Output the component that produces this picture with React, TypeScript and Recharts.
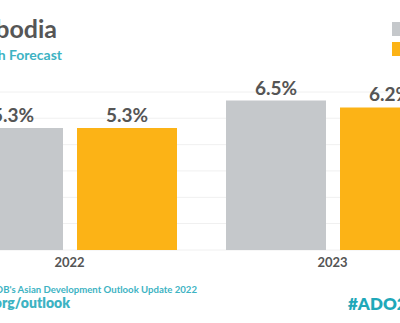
import React from "react";
import { BarChart, Bar, XAxis, YAxis, CartesianGrid, LabelList } from "recharts";

const years = ["2022", "2023"];
const adoApril = [5.3, 6.5];
const adoUpdate = [5.3, 6.2];
const gridTicks = [0, 0.57, 1.15, 1.72, 2.29, 2.86, 3.44, 4.01, 4.58, 5.15, 5.73, 6.3, 6.87];

const data = years.map((y, i) => ({ year: y, april: adoApril[i], update: adoUpdate[i] }));

const GREY = "#c5c8cb";
const YELLOW = "#fcb316";
const TEXT = "#555555";
const TEAL = "#3db3c3";
const TEAL2 = "#1fa8b9";
const FONT = "Lato, 'Open Sans', sans-serif";

const fmt = (v: any) => `${Number(v).toFixed(1)}%`;

export default function App() {
  return (
    <div style={{ position: "fixed", left: 0, top: 0, width: 400, height: 323, overflow: "hidden", background: "#fff" }}>
      <div style={{ position: "absolute", left: -62, top: 0 }}>
        <BarChart width={526} height={323} data={data} margin={{ top: 92, right: 0, bottom: 43, left: 0 }} barGap={14} barSize={100}>
          <CartesianGrid vertical={false} stroke="#f0f0f0" />
          <YAxis hide domain={[0, 6.87]} ticks={gridTicks} type="number" />
          <XAxis dataKey="year" axisLine={false} tickLine={false} tick={{ fontSize: 13, fontWeight: 700, fill: TEXT, fontFamily: FONT }} />
          <Bar dataKey="april" fill={GREY} isAnimationActive={false}>
            <LabelList dataKey="april" position="top" offset={6} formatter={fmt} style={{ fontSize: 19, fontWeight: 700, fill: TEXT, fontFamily: FONT }} />
          </Bar>
          <Bar dataKey="update" fill={YELLOW} isAnimationActive={false}>
            <LabelList dataKey="update" position="top" offset={6} formatter={fmt} style={{ fontSize: 19, fontWeight: 700, fill: TEXT, fontFamily: FONT }} />
          </Bar>
        </BarChart>
      </div>
      <svg width={400} height={323} style={{ position: "absolute", left: 0, top: 0, pointerEvents: "none" }}>
        <text x={57} y={38} textAnchor="end" fontSize={25} fontWeight={700} fill="#565656" fontFamily={FONT}>Cambodia</text>
        <text x={62} y={60} textAnchor="end" fontSize={14} fontWeight={700} fill={TEAL} fontFamily={FONT}>Growth Forecast</text>
        <rect x={392} y={22} width={14} height={14} fill={GREY} />
        <rect x={392} y={42} width={14} height={14} fill={YELLOW} />
        <text x={197} y={293} textAnchor="end" fontSize={9.6} fontWeight={700} fill={TEAL} fontFamily={FONT}>Source: ADB's Asian Development Outlook Update 2022</text>
        <text x={70} y={308} textAnchor="end" fontSize={14} fontWeight={800} fill={TEAL} fontFamily={FONT}>www.adb.org/outlook</text>
        <text x={348} y={310} textAnchor="start" fontSize={17} fontWeight={800} fill={TEAL2} fontFamily={FONT}>#ADO2022</text>
      </svg>
    </div>
  );
}
